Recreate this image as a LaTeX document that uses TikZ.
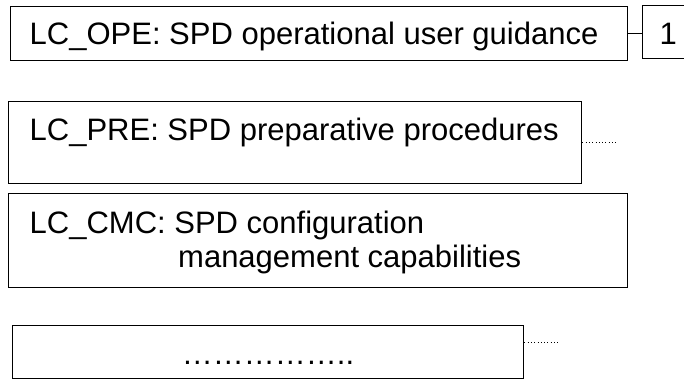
\documentclass[tikz,border=0pt]{standalone}
\usepackage{fontspec}
\setmainfont{Liberation Sans}
\begin{document}
\begin{tikzpicture}[x=1pt,y=-1pt,
  framebox/.style={draw=black, line width=1.3pt, inner sep=0pt, anchor=north west},
  boxtext/.style={inner sep=0pt, anchor=base west, font=\fontsize{31}{35}\selectfont},
  leader/.style={line width=0.7pt, dash pattern=on 0.8pt off 2.5pt}]
\useasboundingbox (0,0) rectangle (684,379);
\clip (0,0) rectangle (684,379);

% frames
\node[framebox, minimum width=617pt, minimum height=54pt] (b1) at (10,6) {};
\node[framebox, minimum width=90pt,  minimum height=53pt] (one) at (642,5) {};
\node[framebox, minimum width=573pt, minimum height=82pt] (b2) at (8,101) {};
\node[framebox, minimum width=619pt, minimum height=94pt] (b3) at (8,193) {};
\node[framebox, minimum width=511pt, minimum height=53pt] (b4) at (12,325) {};

% texts
\node[boxtext] (t1) at (29.5,45) {LC\_OPE: SPD operational user guidance};
\node[boxtext] (tone) at (659.5,45) {1};
\node[boxtext] (t2) at (29.5,141) {LC\_PRE: SPD preparative procedures};
\node[boxtext] (t3a) at (29.5,233) {LC\_CMC: SPD configuration};
\node[boxtext] (t3b) at (178,267) {management capabilities};
\node[boxtext, anchor=base] (t4) at (268,364) {……………..};

% connectors
\draw[line width=1.3pt] (b1.east) -- (b1.east -| one.west);
\coordinate (lead2) at (617,142);
\coordinate (lead4) at (560,342);
\draw[leader] (b2.east |- lead2) -- (lead2);
\draw[leader] (b4.east |- lead4) -- (lead4);
\end{tikzpicture}
\end{document}
